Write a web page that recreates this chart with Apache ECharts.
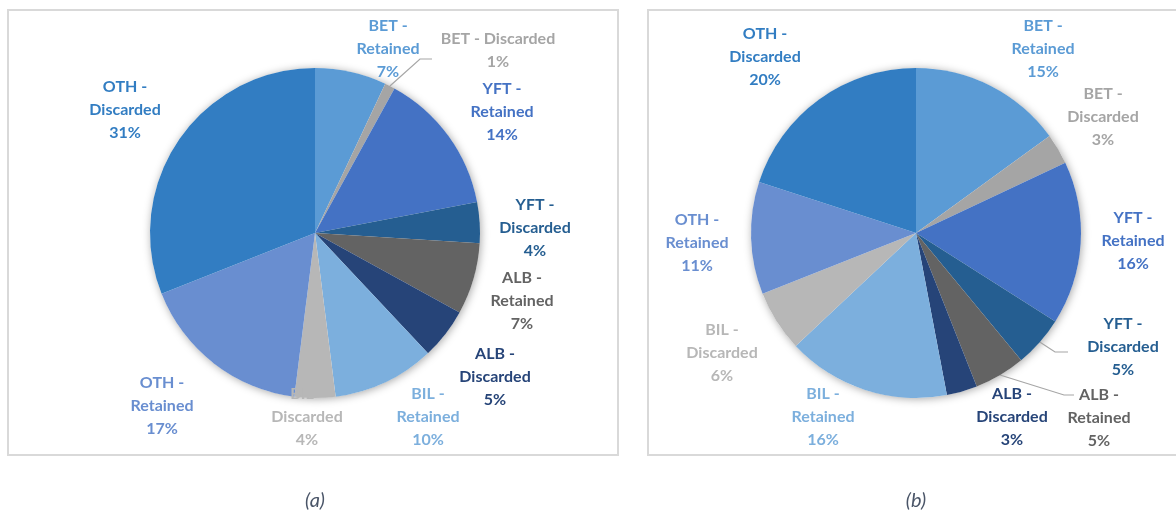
<!DOCTYPE html>
<html>
<head>
<meta charset="utf-8">
<script src="https://cdn.jsdelivr.net/npm/echarts@6/dist/echarts.min.js"></script>
<style>
  html, body { margin: 0; padding: 0; background: #ffffff; }
  #chart { width: 1176px; height: 513px; }
</style>
</head>
<body>
<div id="chart"></div>
<script>
// Catch composition by species and fate, two periods
const categories = [
  'BET - Retained', 'BET - Discarded', 'YFT - Retained', 'YFT - Discarded',
  'ALB - Retained', 'ALB - Discarded', 'BIL - Retained', 'BIL - Discarded',
  'OTH - Retained', 'OTH - Discarded'
];
const valuesA = [7, 1, 14, 4, 7, 5, 10, 4, 17, 31];
const valuesB = [15, 3, 16, 5, 5, 3, 16, 6, 11, 20];
const captions = ['(a)', '(b)'];

// Slice colours, one per category
const sliceColors = [
  '#5B9BD5', '#A5A5A5', '#4472C4', '#255E91', '#636363',
  '#264478', '#7CAFDD', '#B7B7B7', '#698ED0', '#327DC2'
];

// Panel geometry
const panels = [
  { center: [315, 233], radius: 165, box: [8, 10, 610, 445] },
  { center: [916, 233], radius: 165, box: [648, 10, 540, 445] }
];

// Label anchor points (centre of each label block)
const labelAnchorsA = [
  [388, 49], [498, 50], [502, 112], [535, 228], [522, 301],
  [495, 377], [428, 417], [307, 417], [162, 406], [125, 110]
];
const labelAnchorsB = [
  [1043, 49], [1103, 117], [1133, 241], [1123, 347], [1099, 418],
  [1012, 417], [823, 417], [722, 353], [697, 243], [765, 57]
];

// Leader lines: [elbow, end] for the labels that use one
const leadersA = { 1: [[420, 59], [432, 59]] };
const leadersB = { 3: [[1055, 352], [1068, 352]], 4: [[1064, 395], [1074, 395]] };

// Labels written on a single name line
const oneLineNamesA = { 1: true };
const oneLineNamesB = {};

function labelText(name, pct, oneLine) {
  const parts = name.split(' - ');
  const head = oneLine ? parts[0] + ' - ' + parts[1] : parts[0] + ' -\n' + parts[1];
  return head + '\n' + pct + '%';
}

function midPoint(values, idx, center, radius) {
  const total = values.reduce((s, v) => s + v, 0);
  let before = 0;
  for (let i = 0; i < idx; i++) before += values[i];
  const ang = (before + values[idx] / 2) / total * Math.PI * 2;
  return [center[0] + radius * Math.sin(ang), center[1] - radius * Math.cos(ang)];
}

function buildPie(values, panel, anchors, leaders, oneLine) {
  return {
    type: 'pie',
    center: panel.center,
    radius: panel.radius,
    startAngle: 90,
    clockwise: true,
    avoidLabelOverlap: false,
    silent: true,
    animation: false,
    z: 2,
    itemStyle: { borderWidth: 0 },
    label: {
      show: true,
      position: 'outside',
      fontFamily: 'Lato, "Open Sans", sans-serif',
      fontWeight: 'bold',
      fontSize: 16,
      lineHeight: 23,
      align: 'center',
      formatter: p => labelText(p.name, Math.round(p.percent), !!oneLine[p.dataIndex])
    },
    labelLine: { show: false, lineStyle: { color: '#A6A6A6', width: 1.2 } },
    labelLayout: function (params) {
      const i = params.dataIndex;
      const out = { x: anchors[i][0], y: anchors[i][1], align: 'center', verticalAlign: 'middle' };
      if (leaders[i]) {
        out.labelLinePoints = [midPoint(values, i, panel.center, panel.radius), leaders[i][0], leaders[i][1]];
      }
      return out;
    },
    data: categories.map((name, i) => ({
      name: name,
      value: values[i],
      itemStyle: { color: sliceColors[i] },
      label: { color: sliceColors[i] },
      labelLine: { show: !!leaders[i] }
    }))
  };
}

// Soft shadow disc drawn beneath each pie
function shadowDisc(panel) {
  return {
    type: 'pie',
    center: panel.center,
    radius: panel.radius,
    silent: true,
    animation: false,
    z: 1,
    label: { show: false },
    labelLine: { show: false },
    itemStyle: {
      color: '#ffffff',
      shadowBlur: 8,
      shadowColor: 'rgba(0,0,0,0.35)',
      shadowOffsetX: 1,
      shadowOffsetY: 1
    },
    data: [{ value: 1, name: '' }]
  };
}

const chart = echarts.init(document.getElementById('chart'), null, { renderer: 'canvas' });

const graphics = [];
panels.forEach((p, k) => {
  graphics.push({
    type: 'rect',
    shape: { x: p.box[0], y: p.box[1], width: p.box[2], height: p.box[3] },
    style: { fill: 'none', stroke: '#D9D9D9', lineWidth: 2 },
    silent: true
  });
  graphics.push({
    type: 'text',
    x: p.center[0],
    y: 501,
    style: {
      text: captions[k],
      fill: '#4A5568',
      font: 'italic 20px Lato, "Open Sans", sans-serif',
      align: 'center',
      verticalAlign: 'middle'
    },
    silent: true
  });
});

chart.setOption({
  backgroundColor: '#ffffff',
  animation: false,
  tooltip: { show: false },
  graphic: graphics,
  series: [
    shadowDisc(panels[0]),
    shadowDisc(panels[1]),
    buildPie(valuesA, panels[0], labelAnchorsA, leadersA, oneLineNamesA),
    buildPie(valuesB, panels[1], labelAnchorsB, leadersB, oneLineNamesB)
  ]
});
</script>
</body>
</html>
